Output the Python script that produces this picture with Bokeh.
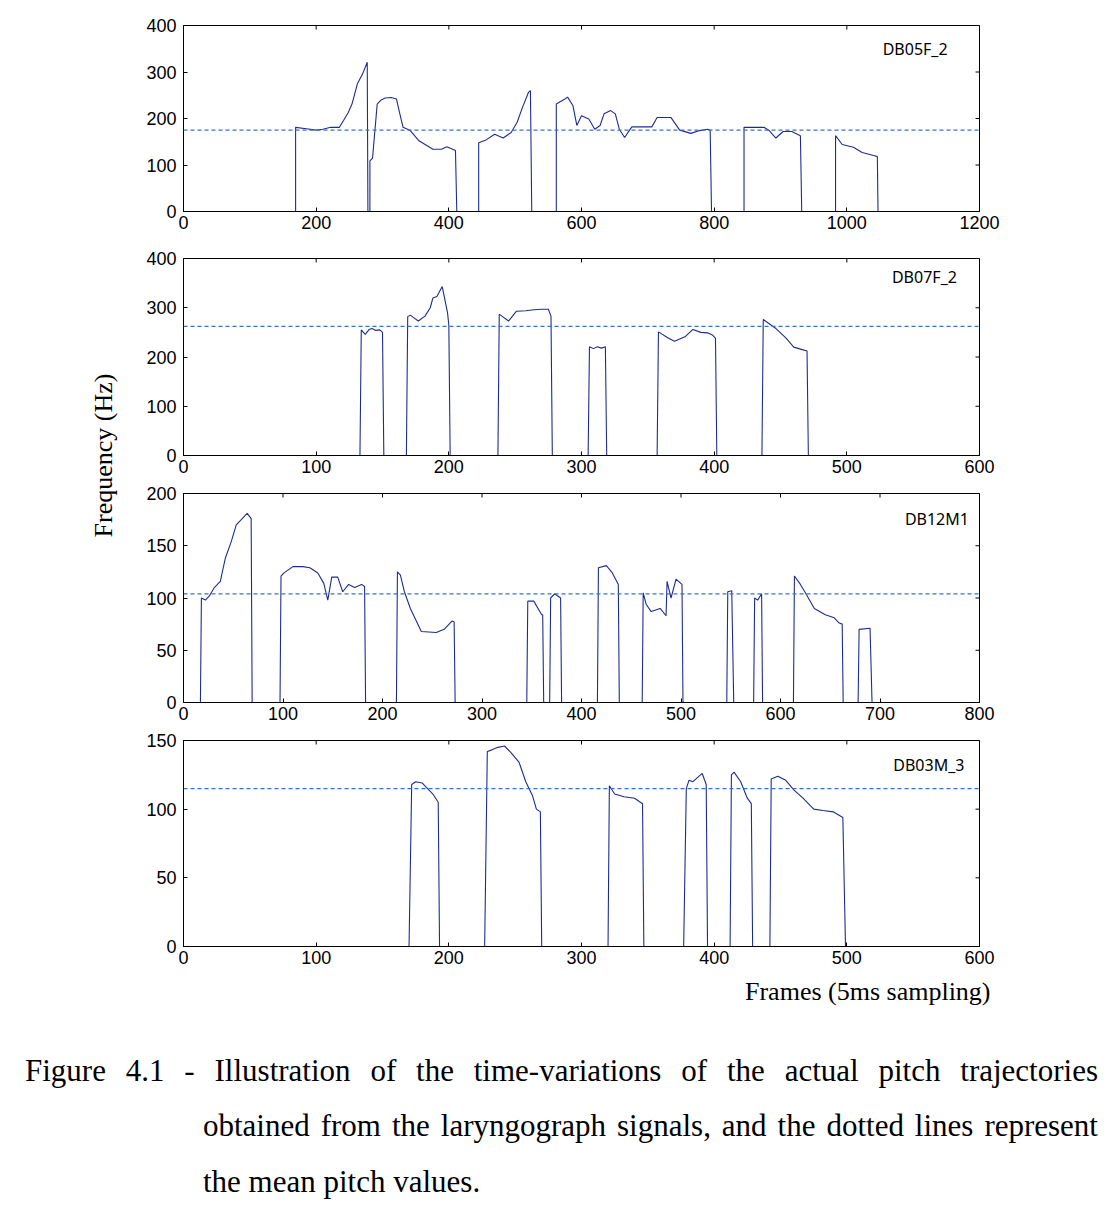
from math import pi

from bokeh.embed import file_html
from bokeh.layouts import column, row
from bokeh.models import (ColumnDataSource, Div, FixedTicker, Label,
                          Range1d, Span)
from bokeh.plotting import figure
from bokeh.resources import INLINE

# ---------------------------------------------------------------------------
# Pitch trajectories (frame index, F0 in Hz); unvoiced frames are 0 Hz
# ---------------------------------------------------------------------------
db05f_frames = [0, 169, 169, 185, 200, 210, 222, 235, 241, 248, 254, 262, 270, 277, 278,
                281, 281, 285, 292, 298, 304, 313, 321, 325, 331, 342, 355, 368, 376, 389,
                397, 410, 412,
                445, 445, 455, 469, 482, 494, 503, 511, 520, 523, 525,
                562, 562, 575, 579, 587, 593, 600, 611, 620, 628, 634, 644, 651, 657, 665,
                672, 676, 706, 714, 735, 748, 765, 778, 790, 794, 796,
                845, 845, 858, 875, 883, 893, 904, 917, 930, 932,
                983, 983, 993, 1010, 1023, 1042, 1046, 1047, 1200]
db05f_hz = [0, 0, 181, 178, 175, 177, 181, 181, 195, 212, 231, 274, 296, 321, 0,
            0, 109, 115, 231, 240, 244, 245, 242, 217, 181, 174, 152, 141, 134, 134,
            139, 131, 0,
            0, 148, 153, 166, 158, 170, 192, 224, 256, 260, 0,
            0, 231, 242, 246, 228, 185, 206, 199, 177, 185, 210, 217, 210, 177, 159,
            174, 182, 182, 202, 202, 175, 168, 174, 177, 175, 0,
            0, 181, 181, 181, 174, 158, 172, 172, 163, 0,
            0, 163, 144, 138, 127, 120, 118, 0, 0]
db05f_mean = 175

db07f_frames = [0, 133, 134, 137, 140, 142, 145, 148, 150, 151,
                168, 169, 171, 174, 177, 182, 186, 188, 191, 195, 196, 199, 200, 201,
                237, 238, 240, 245, 251, 258, 264, 270, 275, 277, 278,
                305, 306, 309, 312, 315, 318, 319,
                357, 358, 365, 370, 378, 384, 390, 395, 399, 401, 402,
                436, 437, 446, 454, 460, 465, 470, 471, 600]
db07f_hz = [0, 0, 255, 246, 256, 258, 254, 255, 250, 0,
            0, 282, 285, 279, 273, 283, 300, 320, 323, 343, 330, 290, 265, 0,
            0, 287, 283, 273, 293, 294, 296, 297, 297, 283, 0,
            0, 221, 217, 221, 218, 221, 0,
            0, 251, 239, 232, 241, 256, 250, 249, 244, 238, 0,
            0, 276, 259, 239, 220, 216, 212, 0, 0]
db07f_mean = 262

db12m_frames = [0, 17, 18, 22, 26, 31, 37, 42, 48, 53, 59, 64, 68, 69,
                97, 98, 101, 110, 120, 127, 135, 141, 145, 149, 155, 160, 166, 172, 179, 182, 183,
                214, 215, 218, 222, 228, 234, 239, 254, 262, 270, 272, 273,
                345, 346, 352, 360, 361, 362,
                368, 369, 373, 379, 380,
                416, 417, 425, 431, 437, 438,
                461, 462, 465, 470, 479, 485, 486, 490, 495, 501, 502,
                546, 547, 551, 553,
                573, 574, 577, 581, 582,
                613, 614, 620, 625, 634, 645, 654, 659, 662, 663,
                678, 679, 690, 692, 800]
db12m_hz = [0, 0, 100, 98, 102, 110, 116, 138, 154, 170, 176, 181, 176, 0,
            0, 121, 124, 130, 130, 129, 124, 114, 98, 120, 120, 106, 113, 110, 113, 111, 0,
            0, 125, 122, 106, 90, 78, 68, 67, 70, 78, 77, 0,
            0, 97, 97, 84, 84, 0,
            0, 100, 104, 100, 0,
            0, 129, 131, 124, 113, 0,
            0, 105, 94, 87, 90, 83, 116, 100, 118, 113, 0,
            0, 106, 107, 0,
            0, 100, 98, 104, 0,
            0, 121, 113, 105, 90, 84, 81, 76, 75, 0,
            0, 70, 71, 0, 0]
db12m_mean = 104

db03m_frames = [0, 170, 172, 175, 180, 184, 188, 192, 193,
                227, 229, 232, 237, 242, 247, 253, 258, 263, 266, 269, 270,
                320, 321, 325, 332, 340, 346, 347,
                377, 379, 381, 384, 391, 394, 395,
                412, 413, 415, 420, 425, 428, 429,
                442, 443, 448, 454, 460, 467, 475, 482, 490, 497, 499, 600]
db03m_hz = [0, 0, 118, 120, 119, 115, 111, 105, 0,
            0, 142, 143, 145, 146, 141, 134, 120, 110, 100, 98, 0,
            0, 117, 111, 109, 108, 104, 0,
            0, 115, 121, 120, 126, 118, 0,
            0, 125, 127, 120, 108, 104, 0,
            0, 122, 124, 121, 114, 108, 100, 99, 98, 94, 0, 0]
db03m_mean = 115

speaker_names = ["DB05F_2", "DB07F_2", "DB12M1", "DB03M_3"]
x_maxes = [1200, 600, 800, 600]
y_maxes = [400, 400, 200, 150]
x_tick_steps = [200, 100, 100, 100]
y_tick_steps = [100, 100, 50, 50]

# ---------------------------------------------------------------------------
# styling
# ---------------------------------------------------------------------------
TRACE = "#1f2c8f"
MEAN = "#3a6fd2"
TICK_FONT = "Liberation Sans"
TICK_SIZE = "18px"

# frame geometry: (border top, frame height, border bottom) for each panel
panel_geom = [(25, 186, 33), (14, 197, 27), (11, 209, 28), (10, 206, 26)]
LEFT_W = 143
FIG_W = 1108 - LEFT_W
BORDER_L = 40
FRAME_W = 796
BORDER_R = FIG_W - BORDER_L - FRAME_W

# name label positions inside each panel (data units)
name_pos = [(1054, 350), (534, 363), (725, 176), (535, 132)]


def panel(frames, hz, mean, name, xmax, ymax, xstep, ystep, geom, npos):
    top, fh, bottom = geom
    p = figure(width=FIG_W, height=top + fh + bottom,
               x_range=Range1d(0, xmax), y_range=Range1d(0, ymax),
               output_backend="svg", toolbar_location=None,
               min_border_left=BORDER_L, min_border_right=BORDER_R,
               min_border_top=top, min_border_bottom=bottom)
    p.background_fill_color = "white"
    p.border_fill_color = "white"
    p.outline_line_color = "black"
    p.outline_line_width = 1
    p.xgrid.visible = False
    p.ygrid.visible = False

    xticks = list(range(0, xmax + 1, xstep))
    yticks = list(range(0, ymax + 1, ystep))

    for ax, ticks in ((p.xaxis[0], xticks), (p.yaxis[0], yticks)):
        ax.ticker = FixedTicker(ticks=ticks)
        ax.major_tick_in = 4
        ax.major_tick_out = 0
        ax.minor_tick_line_color = None
        ax.axis_line_color = "black"
        ax.major_tick_line_color = "black"
        ax.major_label_text_font = TICK_FONT
        ax.major_label_text_font_size = TICK_SIZE
        ax.major_label_text_color = "black"
    p.xaxis[0].major_label_standoff = 4
    p.yaxis[0].major_label_standoff = 7

    # inward ticks on the top and right edges of the box (clipped to the frame)
    p.scatter(x=xticks, y=[ymax] * len(xticks), marker="dash", angle=pi / 2,
              size=8, line_color="black", line_width=1)
    p.scatter(x=[xmax] * len(yticks), y=yticks, marker="dash",
              size=8, line_color="black", line_width=1)

    p.add_layout(Span(location=mean, dimension="width", line_color=MEAN,
                      line_width=1.3, line_dash="4 3"))

    src = ColumnDataSource(dict(frame=frames, hz=hz))
    p.line("frame", "hz", source=src, line_color=TRACE, line_width=1.1)

    p.add_layout(Label(x=npos[0], y=npos[1], text=name,
                       text_font="Noto Sans", text_font_size="16px",
                       text_color="black", text_align="left",
                       text_baseline="middle"))
    return p


series = [
    (db05f_frames, db05f_hz, db05f_mean),
    (db07f_frames, db07f_hz, db07f_mean),
    (db12m_frames, db12m_hz, db12m_mean),
    (db03m_frames, db03m_hz, db03m_mean),
]

panels = []
for i, (fr, hz, mu) in enumerate(series):
    panels.append(panel(fr, hz, mu, speaker_names[i], x_maxes[i], y_maxes[i],
                        x_tick_steps[i], y_tick_steps[i], panel_geom[i], name_pos[i]))

stack_h = sum(t + f + b for t, f, b in panel_geom)

# shared y-axis title, drawn in its own narrow strip
ylab = figure(width=LEFT_W, height=stack_h, x_range=Range1d(0, LEFT_W),
              y_range=Range1d(0, stack_h), output_backend="svg",
              toolbar_location=None, min_border=0)
ylab.axis.visible = False
ylab.grid.visible = False
ylab.outline_line_color = None
ylab.border_fill_color = "white"
ylab.background_fill_color = "white"
ylab.add_layout(Label(x=103, y=stack_h - 455, text="Frequency (Hz)", angle=pi / 2,
                      text_font="Liberation Serif", text_font_size="26px",
                      text_color="black", text_align="center",
                      text_baseline="middle"))

caption_html = """
<div style="position:relative;width:1108px;height:239px;font-family:'Liberation Serif',serif;color:#000;">
  <div style="position:absolute;left:745px;top:7px;font-size:26px;line-height:26px;white-space:nowrap;">Frames (5ms sampling)</div>
  <div style="position:absolute;left:25px;top:83px;width:1073px;font-size:31px;line-height:31px;text-align:justify;text-align-last:justify;">Figure 4.1 - Illustration of the time-variations of the actual pitch trajectories</div>
  <div style="position:absolute;left:203px;top:138px;width:895px;font-size:31px;line-height:31px;text-align:justify;text-align-last:justify;">obtained from the laryngograph signals, and the dotted lines represent</div>
  <div style="position:absolute;left:203px;top:194px;font-size:31px;line-height:31px;white-space:nowrap;">the mean pitch values.</div>
</div>
"""
caption = Div(text=caption_html, width=1108, height=1211 - stack_h, margin=(0, 0, 0, 0))

layout = column(row(ylab, column(*panels, spacing=0), spacing=0), caption, spacing=0)

open("out.html", "w").write(file_html(layout, INLINE, title="Pitch trajectories"))
